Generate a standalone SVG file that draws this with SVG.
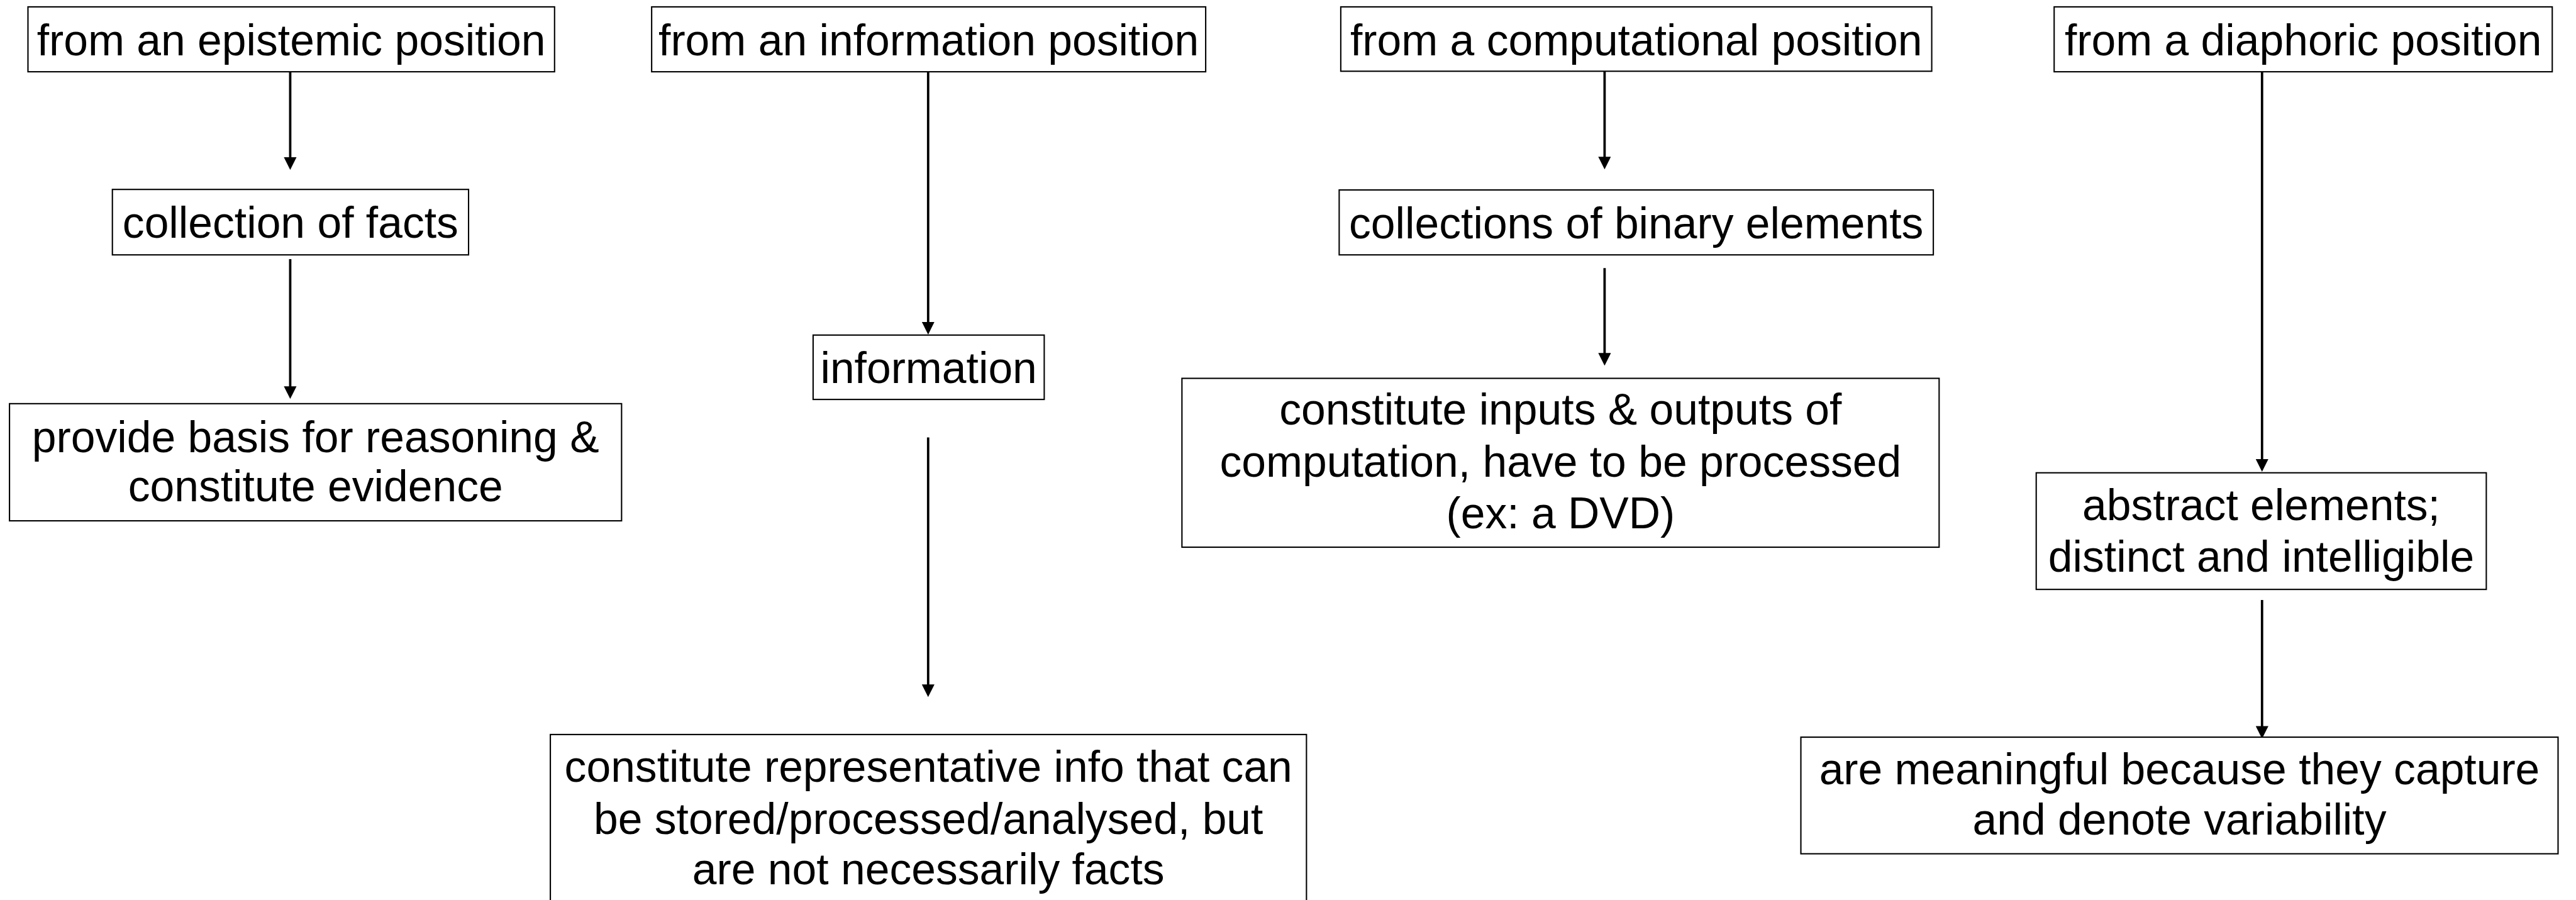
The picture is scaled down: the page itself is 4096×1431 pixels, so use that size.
<svg xmlns="http://www.w3.org/2000/svg" width="4096" height="1431" viewBox="0 0 4096 1431">
<style>
.box{fill:#fff;stroke:#000;stroke-width:2.5}
.t{font-family:"Liberation Sans",Arial,sans-serif;font-size:83px;fill:#000;text-anchor:middle}
.c{fill:none;stroke:#000;stroke-width:4.5}
</style>
<defs>
<marker id="ah" markerUnits="userSpaceOnUse" markerWidth="24" markerHeight="24" refX="4" refY="12" orient="auto" viewBox="0 0 24 24">
<path d="M0,0 L24,12 L0,24 z" fill="#000"/>
</marker>
</defs>
<rect width="4096" height="1431" fill="#fff"/>
<g transform="scale(0.839)">
<g id="connectors">
<path class="c" d="M550,136 V302" marker-end="url(#ah)"/>
<path class="c" d="M550,491 V736" marker-end="url(#ah)"/>
<path class="c" d="M1759,136 V614" marker-end="url(#ah)"/>
<path class="c" d="M1759,829 V1301" marker-end="url(#ah)"/>
<path class="c" d="M3041,135 V301" marker-end="url(#ah)"/>
<path class="c" d="M3041,508 V673" marker-end="url(#ah)"/>
<path class="c" d="M4287,136 V874" marker-end="url(#ah)"/>
<path class="c" d="M4287,1137 V1380" marker-end="url(#ah)"/>
</g>
<g id="n1"><rect class="box" x="53" y="13" width="998" height="123"/><text class="t" x="552" y="105">from an epistemic position</text></g>
<g id="n2"><rect class="box" x="213" y="359" width="675" height="124"/><text class="t" x="550.5" y="451">collection of facts</text></g>
<g id="n3"><rect class="box" x="18" y="765" width="1160" height="222"/><text class="t" x="598" y="857">provide basis for reasoning &amp;</text><text class="t" x="598" y="950">constitute evidence</text></g>
<g id="n4"><rect class="box" x="1235" y="13" width="1050" height="123"/><text class="t" x="1760" y="105">from an information position</text></g>
<g id="n5"><rect class="box" x="1541" y="635" width="438" height="122"/><text class="t" x="1760" y="726">information</text></g>
<g id="n6"><rect class="box" x="1043" y="1392" width="1433" height="360"/><text class="t" x="1759.5" y="1482">constitute representative info that can</text><text class="t" x="1759.5" y="1580">be stored/processed/analysed, but</text><text class="t" x="1759.5" y="1676">are not necessarily facts</text></g>
<g id="n7"><rect class="box" x="2541" y="13" width="1120" height="122"/><text class="t" x="3101" y="105">from a computational position</text></g>
<g id="n8"><rect class="box" x="2538" y="360" width="1126" height="123"/><text class="t" x="3101" y="452">collections of binary elements</text></g>
<g id="n9"><rect class="box" x="2240" y="717" width="1435" height="320"/><text class="t" x="2957.5" y="805">constitute inputs &amp; outputs of</text><text class="t" x="2957.5" y="903">computation, have to be processed</text><text class="t" x="2957.5" y="1001">(ex: a DVD)</text></g>
<g id="n10"><rect class="box" x="3893" y="13" width="944" height="123"/><text class="t" x="4365" y="105">from a diaphoric position</text></g>
<g id="n11"><rect class="box" x="3859" y="896" width="853" height="221"/><text class="t" x="4285.5" y="986">abstract elements;</text><text class="t" x="4285.5" y="1084">distinct and intelligible</text></g>
<g id="n12"><rect class="box" x="3413" y="1397" width="1435" height="221"/><text class="t" x="4130.5" y="1486">are meaningful because they capture</text><text class="t" x="4130.5" y="1582">and denote variability</text></g>
</g>
</svg>
